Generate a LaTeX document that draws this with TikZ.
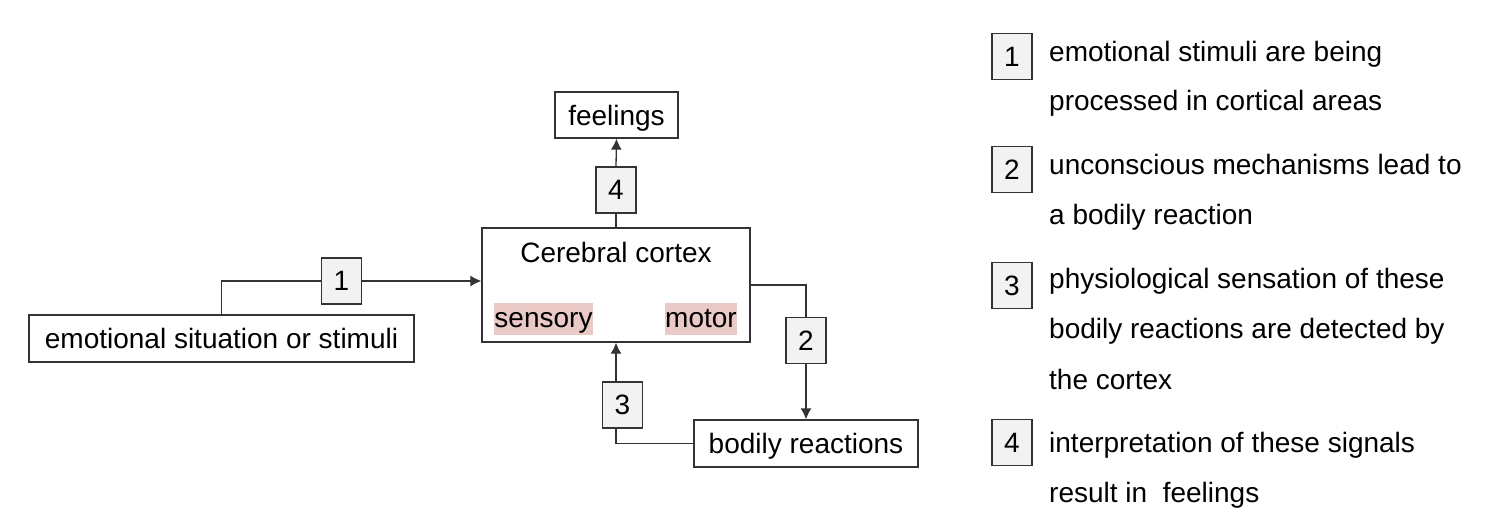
\documentclass[tikz,border=0pt]{standalone}
\usepackage{fontspec}
\setmainfont{Liberation Sans}
\usetikzlibrary{arrows.meta}
\definecolor{hl}{HTML}{EAC9C7}
\definecolor{numfill}{HTML}{F2F2F2}
\definecolor{edge}{HTML}{333333}
\tikzset{
  txt/.style={font=\fontsize{28}{32}\selectfont},
  box/.style={draw=edge, line width=1.3pt, fill=white, inner sep=0pt, text height=26pt, text depth=6pt, txt},
  numbox/.style={draw=edge, line width=1.3pt, fill=numfill, inner sep=0pt, minimum width=40pt, minimum height=46pt, txt},
  hlbox/.style={fill=hl, inner sep=0pt, text height=22pt, text depth=6pt, txt},
  conn/.style={draw=edge, line width=1.3pt},
  arr/.style={conn, -{Latex[length=11pt,width=11pt]}},
  legend/.style={anchor=base west, inner sep=0pt, txt}
}
\begin{document}
\begin{tikzpicture}[x=1pt,y=-1pt]
\useasboundingbox (0,0) rectangle (1488,524);
% main boxes
\node[box, minimum width=385pt, minimum height=47pt] (emo) at (221.5,338.5) {emotional situation or stimuli};
\node[draw=edge, line width=1.3pt, inner sep=0pt, minimum width=268pt, minimum height=114pt] (cortex) at (616,285) {};
\node[inner sep=0pt, anchor=base, txt] (ctitle) at (616,262) {Cerebral cortex};
\node[hlbox, minimum width=99pt, minimum height=32pt] (sens) at (543.5,319) {sensory};
\node[hlbox, minimum width=72pt, minimum height=32pt] (motor) at (701,319) {motor};
\node[box, minimum width=123pt, minimum height=46pt] (feel) at (616.5,115) {feelings};
\node[box, minimum width=224pt, minimum height=47pt] (bodily) at (806,443.5) {bodily reactions};
% number boxes on connectors
\node[numbox] (n1) at (341.5,281) {1};
\node[numbox] (n4) at (616,190) {4};
\node[numbox] (n2) at (806,340.5) {2};
\node[numbox] (n3) at (622.5,405) {3};
\coordinate (b3) at (616,428);
\coordinate (t3) at (616,382);
% connectors
\draw[conn] (emo.north) |- (n1.west);
\draw[arr] (n1.east) -- (cortex.west |- n1);
\draw[conn] (cortex.north) -- (n4.south);
\draw[arr] (n4.north) -- (feel.south);
\draw[conn] (cortex.east) -| (n2.north);
\draw[arr] (n2.south) -- (bodily.north);
\draw[conn] (bodily.west) -| (b3);
\draw[arr] (t3) -- (cortex.south);
% legend
\node[numbox] (l1) at (1012,56.5) {1};
\node[numbox] (l2) at (1012,169.5) {2};
\node[numbox] (l3) at (1012,285.5) {3};
\node[numbox] (l4) at (1012,442.5) {4};
\node[legend] (t1a) at (1049,62) {emotional stimuli are being};
\node[legend] (t1b) at (1049,111) {processed in cortical areas};
\node[legend] (t2a) at (1049,174) {unconscious mechanisms lead to};
\node[legend] (t2b) at (1049,224) {a bodily reaction};
\node[legend] (t3a) at (1049,288) {physiological sensation of these};
\node[legend] (t3b) at (1049,338) {bodily reactions are detected by};
\node[legend] (t3c) at (1049,389) {the cortex};
\node[legend] (t4a) at (1049,452) {interpretation of these signals};
\node[legend] (t4b) at (1049,502) {result in\ \ feelings};
\end{tikzpicture}
\end{document}
